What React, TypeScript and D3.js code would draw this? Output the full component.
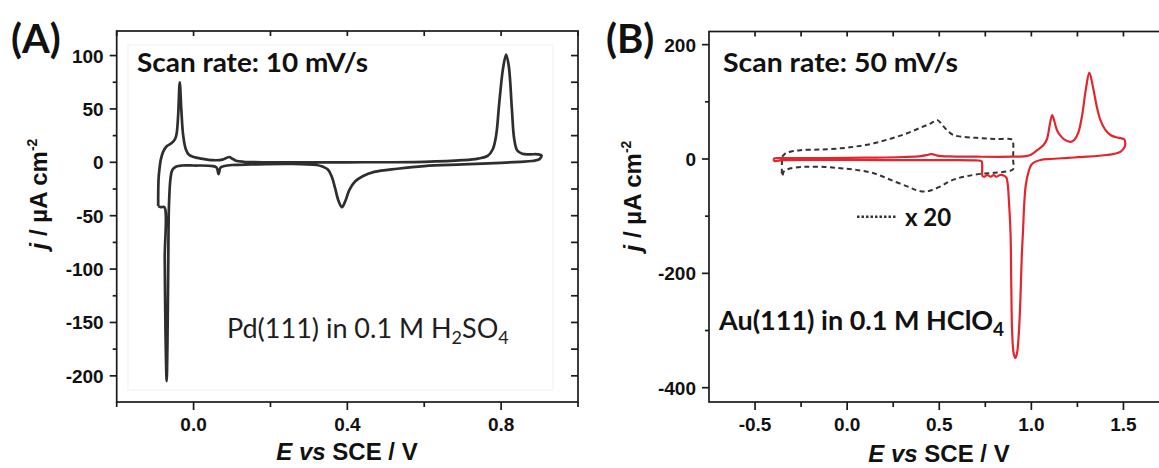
import React from 'react';
import * as d3 from 'd3';

type Pt = [number, number];

// Panel A: Pd(111) in 0.1 M H2SO4, 10 mV/s  [E / V vs SCE, j / uA cm-2]
const pdCv: Pt[] = [
  [-0.092, -41], [-0.092, -30], [-0.091, -15], [-0.089, -7], [-0.085, 3], [-0.079, 10],
  [-0.07, 15], [-0.057, 18], [-0.048, 22], [-0.044, 27], [-0.04, 45], [-0.036, 75],
  [-0.032, 50], [-0.027, 25], [-0.02, 12], [-0.012, 7], [0.0, 5], [0.02, 3.5], [0.05, 2],
  [0.075, 2.5], [0.085, 4], [0.093, 5], [0.1, 3.5], [0.11, 1.5], [0.13, 0.5], [0.2, 0],
  [0.4, 0], [0.6, 0.5], [0.7, 2], [0.74, 3.5], [0.765, 6], [0.778, 12], [0.787, 25],
  [0.795, 55], [0.805, 88], [0.813, 101], [0.82, 90], [0.828, 50], [0.834, 22], [0.842, 11],
  [0.855, 8], [0.875, 7.5], [0.895, 7.5], [0.905, 6.5],
  [0.9, 3], [0.88, 1.2], [0.85, 0.5], [0.8, -0.5], [0.7, -2], [0.6, -3.5], [0.53, -6],
  [0.47, -9], [0.44, -13], [0.42, -18], [0.405, -26], [0.395, -36], [0.386, -42],
  [0.377, -36], [0.368, -24], [0.36, -14], [0.35, -7], [0.335, -4], [0.32, -2.5],
  [0.25, -1.5], [0.15, -2], [0.1, -2.5], [0.08, -3.5], [0.07, -5], [0.065, -11], [0.06, -5],
  [0.05, -3.5], [0.0, -3], [-0.03, -3], [-0.045, -4], [-0.055, -7], [-0.06, -15],
  [-0.064, -40], [-0.066, -100], [-0.068, -170], [-0.07, -205], [-0.073, -160],
  [-0.075, -90], [-0.076, -42], [-0.085, -42], [-0.092, -41],
];

// Panel B: Au(111) in 0.1 M HClO4, 50 mV/s
const auCv: Pt[] = [
  [-0.4, -1], [-0.395, 1], [-0.38, 1.5], [-0.2, 1.5], [0.0, 2], [0.15, 2.5], [0.3, 3.5],
  [0.4, 5], [0.44, 7.5], [0.46, 8.7], [0.49, 6], [0.55, 4.5], [0.7, 4], [0.9, 4], [0.97, 5],
  [1.0, 8], [1.03, 15], [1.065, 24], [1.085, 35], [1.1, 60], [1.113, 77], [1.125, 66],
  [1.14, 50], [1.16, 40], [1.18, 34], [1.212, 30], [1.235, 34], [1.255, 46], [1.275, 75],
  [1.295, 120], [1.315, 151], [1.335, 125], [1.355, 92], [1.375, 68], [1.4, 52], [1.43, 42],
  [1.46, 38], [1.49, 36], [1.505, 34],
  [1.51, 28], [1.505, 20], [1.485, 13], [1.45, 9], [1.41, 7], [1.3, 4], [1.2, 2], [1.1, 0],
  [1.05, -1.7], [1.02, -5], [1.0, -10], [0.985, -22], [0.97, -45], [0.962, -75],
  [0.955, -124], [0.948, -170], [0.94, -250], [0.932, -305], [0.922, -340], [0.913, -348],
  [0.904, -340], [0.896, -305], [0.891, -220], [0.887, -130], [0.878, -72], [0.872, -45],
  [0.865, -33], [0.85, -29], [0.83, -28], [0.81, -31], [0.795, -28], [0.78, -31],
  [0.76, -28], [0.745, -31], [0.735, -30], [0.733, -15], [0.73, -4], [0.7, -2.5],
  [0.5, -2], [0.2, -1.8], [0.0, -1.5], [-0.2, -1.5], [-0.35, -2], [-0.395, -3.5], [-0.4, -1],
];

// Panel B: double layer region, magnified x 20
const auCvX20: Pt[] = [
  [-0.353, 4], [-0.335, 10], [-0.308, 12.8], [-0.254, 15.5], [-0.15, 16.5], [-0.036, 18.7],
  [0.05, 22], [0.145, 27.4], [0.24, 36], [0.326, 45], [0.4, 55], [0.452, 62], [0.49, 68],
  [0.515, 60], [0.543, 50], [0.57, 43], [0.6, 40], [0.7, 37], [0.8, 35], [0.896, 34],
  [0.901, 30], [0.901, 0], [0.901, -18], [0.88, -21], [0.8, -24], [0.724, -26], [0.65, -30],
  [0.597, -34], [0.55, -40], [0.507, -48], [0.452, -55], [0.416, -57], [0.37, -54],
  [0.326, -48], [0.24, -37], [0.145, -25], [0.05, -19], [-0.036, -16], [-0.12, -14],
  [-0.217, -13.5], [-0.28, -15], [-0.308, -16.3], [-0.335, -20], [-0.344, -22],
  [-0.353, -30], [-0.353, 4],
];

const xMajorA = [0, 0.4, 0.8];
const xMinorA = [-0.2, 0.2, 0.6, 1.0];
const yMajorA = [100, 50, 0, -50, -100, -150, -200];
const yMinorA = [75, 25, -25, -75, -125, -175];

const xMajorB = [-0.5, 0, 0.5, 1.0, 1.5];
const xMinorB = [-0.25, 0.25, 0.75, 1.25];
const yMajorB = [200, 0, -200, -400];
const yMinorB = [100, -100, -300];

const ARIAL = '"Liberation Sans", Arial, sans-serif';
const CAL = 'Lato, "Open Sans", sans-serif';
const INK = '#1a1a1a';

const fmtX = (v: number) => d3.format('.1f')(v).replace('\u2212', '-');
const fmtY = (v: number) => d3.format('d')(v).replace('\u2212', '-');

type AxesProps = {
  x: d3.ScaleLinear<number, number>;
  y: d3.ScaleLinear<number, number>;
  xMajor: number[];
  xMinor: number[];
  yMajor: number[];
  yMinor: number[];
  rightTicks: boolean;
};

const Axes = ({ x, y, xMajor, xMinor, yMajor, yMinor, rightTicks }: AxesProps) => {
  const [x0, x1] = x.range();
  const [y1, y0] = y.range();
  const xAll = [...xMajor, ...xMinor];
  const yAll = [...yMajor, ...yMinor];
  return (
    <g stroke={INK} strokeWidth={1.7}>
      <rect x={x0} y={y0} width={x1 - x0} height={y1 - y0} fill="none" />
      {/* bottom, outward */}
      {xMajor.map((v) => (
        <line key={'bx' + v} x1={x(v)} x2={x(v)} y1={y1} y2={y1 + 8} />
      ))}
      {xMinor.map((v) => (
        <line key={'bm' + v} x1={x(v)} x2={x(v)} y1={y1} y2={y1 + 5} />
      ))}
      {/* top, inward */}
      {xAll.map((v) => (
        <line key={'tx' + v} x1={x(v)} x2={x(v)} y1={y0} y2={y0 + 5} />
      ))}
      {/* left, outward */}
      {yMajor.map((v) => (
        <line key={'ly' + v} x1={x0 - 7} x2={x0} y1={y(v)} y2={y(v)} />
      ))}
      {yMinor.map((v) => (
        <line key={'lm' + v} x1={x0 - 4} x2={x0} y1={y(v)} y2={y(v)} />
      ))}
      {rightTicks &&
        yAll.map((v) => (
          <line key={'ry' + v} x1={x1 - 7} x2={x1} y1={y(v)} y2={y(v)} />
        ))}
      <g stroke="none" fill="#111" fontFamily={ARIAL} fontWeight="bold" fontSize={19}>
        {xMajor.map((v) => (
          <text key={'xl' + v} x={x(v)} y={431} textAnchor="middle">
            {fmtX(v)}
          </text>
        ))}
        {yMajor.map((v) => (
          <text key={'yl' + v} x={x0 - 13} y={y(v) + 7} textAnchor="end">
            {fmtY(v)}
          </text>
        ))}
      </g>
    </g>
  );
};

const App = () => {
  const xA = d3.scaleLinear().domain([-0.2, 1.0]).range([116.7, 578]);
  const yA = d3.scaleLinear().domain([-224.5, 123]).range([402, 31]);
  const xB = d3.scaleLinear().domain([-0.75, 1.75]).range([709, 1169.5]);
  const yB = d3.scaleLinear().domain([-425, 223]).range([402, 31.5]);

  const lineA = d3
    .line<Pt>()
    .x((d) => xA(d[0]))
    .y((d) => yA(d[1]))
    .curve(d3.curveCatmullRom.alpha(0.5));
  const lineB = d3
    .line<Pt>()
    .x((d) => xB(d[0]))
    .y((d) => yB(d[1]))
    .curve(d3.curveCatmullRom.alpha(0.5));

  return (
    <svg
      width={1159}
      height={468}
      style={{ position: 'absolute', left: 0, top: 0, background: '#fff' }}
    >
      {/* ---------- Panel A ---------- */}
      <rect x={128} y={45} width={425} height={345} fill="none" stroke="#f1f1f1" strokeWidth={1} />
      <Axes
        x={xA}
        y={yA}
        xMajor={xMajorA}
        xMinor={xMinorA}
        yMajor={yMajorA}
        yMinor={yMinorA}
        rightTicks={true}
      />
      <path
        d={lineA(pdCv) || ''}
        fill="none"
        stroke="#2e2e2e"
        strokeWidth={2.7}
        strokeLinejoin="round"
      />
      <text x={11} y={53} fontFamily={CAL} fontWeight="bold" fontSize={40} fill="#111">
        (A)
      </text>
      <text
        x={137}
        y={72}
        fontFamily={CAL}
        fontWeight="bold"
        fontSize={27}
        fill="#111"
        textLength={231}
        lengthAdjust="spacingAndGlyphs"
      >
        Scan rate: 10 mV/s
      </text>
      <text x={227} y={338} fontFamily={CAL} fontSize={27} fill="#1e1e1e">
        Pd(111) in 0.1 M H
        <tspan fontSize={18} dy={6}>2</tspan>
        <tspan dy={-6}>SO</tspan>
        <tspan fontSize={18} dy={6}>4</tspan>
      </text>
      <text
        x={347}
        y={460}
        textAnchor="middle"
        fontFamily={ARIAL}
        fontWeight="bold"
        fontSize={24}
        fill="#111"
      >
        <tspan fontStyle="italic">E vs</tspan> SCE / V
      </text>
      <text
        transform="translate(47,194) rotate(-90)"
        textAnchor="middle"
        fontFamily={ARIAL}
        fontWeight="bold"
        fontSize={24}
        fill="#111"
      >
        <tspan fontStyle="italic">j</tspan> / µA cm
        <tspan fontSize={14} dy={-10}>-2</tspan>
      </text>

      {/* ---------- Panel B ---------- */}
      <Axes
        x={xB}
        y={yB}
        xMajor={xMajorB}
        xMinor={xMinorB}
        yMajor={yMajorB}
        yMinor={yMinorB}
        rightTicks={false}
      />
      <path
        d={lineB(auCvX20) || ''}
        fill="none"
        stroke="#333"
        strokeWidth={2}
        strokeDasharray="5,3.5"
      />
      <path
        d={lineB(auCv) || ''}
        fill="none"
        stroke="#e3262e"
        strokeWidth={2.2}
        strokeLinejoin="round"
      />
      <text x={606} y={53} fontFamily={CAL} fontWeight="bold" fontSize={40} fill="#111">
        (B)
      </text>
      <text
        x={723}
        y={72}
        fontFamily={CAL}
        fontWeight="bold"
        fontSize={27}
        fill="#111"
        textLength={235}
        lengthAdjust="spacingAndGlyphs"
      >
        Scan rate: 50 mV/s
      </text>
      <line x1={857} x2={897} y1={216.7} y2={216.7} stroke="#333" strokeWidth={2.5} strokeDasharray="2.5,2" />
      <text x={905} y={226} fontFamily={CAL} fontWeight="bold" fontSize={24} fill="#111">
        x 20
      </text>
      <text x={719} y={330} fontFamily={CAL} fontWeight="bold" fontSize={27} fill="#111">
        Au(111) in 0.1 M HClO
        <tspan fontSize={19} dy={6}>4</tspan>
      </text>
      <text
        x={939}
        y={462}
        textAnchor="middle"
        fontFamily={ARIAL}
        fontWeight="bold"
        fontSize={24}
        fill="#111"
      >
        <tspan fontStyle="italic">E vs</tspan> SCE / V
      </text>
      <text
        transform="translate(641,196) rotate(-90)"
        textAnchor="middle"
        fontFamily={ARIAL}
        fontWeight="bold"
        fontSize={24}
        fill="#111"
      >
        <tspan fontStyle="italic">j</tspan> / µA cm
        <tspan fontSize={14} dy={-10}>-2</tspan>
      </text>
    </svg>
  );
};

export default App;
